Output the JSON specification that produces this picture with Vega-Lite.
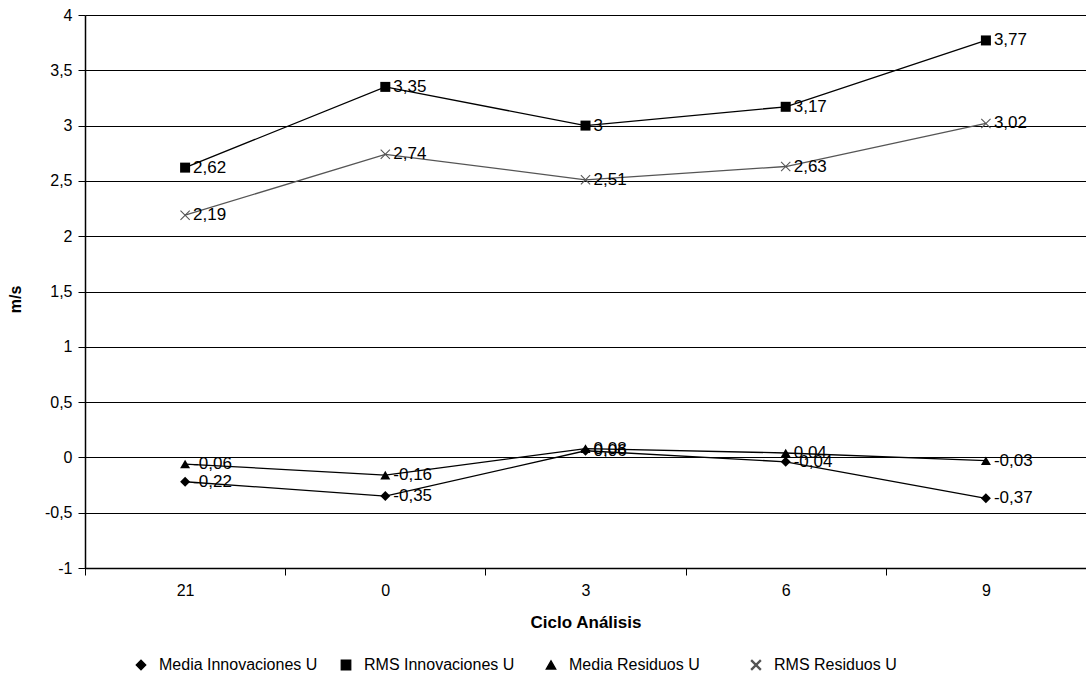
{
  "$schema": "https://vega.github.io/schema/vega-lite/v6.json",
  "width": 1001,
  "height": 553,
  "autosize": {"type": "none"},
  "padding": {"left": 85, "top": 15, "right": 0, "bottom": 116},
  "background": "white",
  "config": {
    "locale": {
      "number": {"decimal": ",", "thousands": ".", "grouping": [3], "currency": ["", " €"], "minus": "-"}
    },
    "font": "Liberation Sans",
    "view": {"stroke": null}
  },
  "data": {
    "values": [
      {"ciclo": "21", "serie": "Media Innovaciones U", "valor": -0.22},
      {"ciclo": "0", "serie": "Media Innovaciones U", "valor": -0.35},
      {"ciclo": "3", "serie": "Media Innovaciones U", "valor": 0.06},
      {"ciclo": "6", "serie": "Media Innovaciones U", "valor": -0.04},
      {"ciclo": "9", "serie": "Media Innovaciones U", "valor": -0.37},
      {"ciclo": "21", "serie": "RMS Innovaciones U", "valor": 2.62},
      {"ciclo": "0", "serie": "RMS Innovaciones U", "valor": 3.35},
      {"ciclo": "3", "serie": "RMS Innovaciones U", "valor": 3},
      {"ciclo": "6", "serie": "RMS Innovaciones U", "valor": 3.17},
      {"ciclo": "9", "serie": "RMS Innovaciones U", "valor": 3.77},
      {"ciclo": "21", "serie": "Media Residuos U", "valor": -0.06},
      {"ciclo": "0", "serie": "Media Residuos U", "valor": -0.16},
      {"ciclo": "3", "serie": "Media Residuos U", "valor": 0.08},
      {"ciclo": "6", "serie": "Media Residuos U", "valor": 0.04},
      {"ciclo": "9", "serie": "Media Residuos U", "valor": -0.03},
      {"ciclo": "21", "serie": "RMS Residuos U", "valor": 2.19},
      {"ciclo": "0", "serie": "RMS Residuos U", "valor": 2.74},
      {"ciclo": "3", "serie": "RMS Residuos U", "valor": 2.51},
      {"ciclo": "6", "serie": "RMS Residuos U", "valor": 2.63},
      {"ciclo": "9", "serie": "RMS Residuos U", "valor": 3.02}
    ]
  },
  "encoding": {
    "x": {
      "field": "ciclo",
      "type": "nominal",
      "sort": ["21", "0", "3", "6", "9"],
      "scale": {"type": "band", "paddingInner": 0, "paddingOuter": 0},
      "axis": {
        "title": "Ciclo Análisis",
        "titleFontSize": 17,
        "titleFontWeight": "bold",
        "titleColor": "black",
        "titlePadding": 16,
        "labelAngle": 0,
        "labelFontSize": 16,
        "labelColor": "black",
        "labelPadding": 7,
        "tickBand": "extent",
        "tickSize": 7,
        "tickColor": "black",
        "domainColor": "black",
        "domainWidth": 1.5,
        "grid": false
      }
    },
    "y": {
      "field": "valor",
      "type": "quantitative",
      "scale": {"domain": [-1, 4], "nice": false, "zero": false},
      "axis": {
        "title": "m/s",
        "titleFontSize": 16,
        "titleFontWeight": "bold",
        "titleColor": "black",
        "titleX": -62,
        "titleY": 284,
        "values": [-1, -0.5, 0, 0.5, 1, 1.5, 2, 2.5, 3, 3.5, 4],
        "format": "~g",
        "labelFontSize": 16,
        "labelColor": "black",
        "labelPadding": 6,
        "tickSize": 7,
        "tickColor": "black",
        "domainColor": "black",
        "domainWidth": 1.5,
        "grid": true,
        "gridColor": "black",
        "gridWidth": 1.2,
        "gridOpacity": 1
      }
    },
    "color": {
      "field": "serie",
      "type": "nominal",
      "sort": ["Media Innovaciones U", "RMS Innovaciones U", "Media Residuos U", "RMS Residuos U"],
      "scale": {
        "domain": ["Media Innovaciones U", "RMS Innovaciones U", "Media Residuos U", "RMS Residuos U"],
        "range": ["black", "black", "black", "#555555"]
      },
      "legend": {
        "title": null,
        "orient": "none",
        "direction": "horizontal",
        "legendX": 48,
        "legendY": 642,
        "columns": 4,
        "gridAlign": "all",
        "columnPadding": 20,
        "labelFontSize": 16,
        "labelColor": "black",
        "symbolSize": 90,
        "labelOffset": 10
      }
    }
  },
  "layer": [
    {
      "mark": {"type": "line"},
      "encoding": {
        "strokeWidth": {
          "field": "serie",
          "type": "nominal",
          "scale": {
            "domain": ["Media Innovaciones U", "RMS Innovaciones U", "Media Residuos U", "RMS Residuos U"],
            "range": [1.3, 1.3, 1.3, 0.8]
          },
          "legend": null
        }
      }
    },
    {
      "mark": {"type": "point", "filled": true, "size": 100, "opacity": 1},
      "encoding": {
        "shape": {
          "field": "serie",
          "type": "nominal",
          "scale": {
            "domain": ["Media Innovaciones U", "RMS Innovaciones U", "Media Residuos U", "RMS Residuos U"],
            "range": [
              "diamond",
              "square",
              "triangle-up",
              "M-1,-0.85L-0.85,-1L0,-0.15L0.85,-1L1,-0.85L0.15,0L1,0.85L0.85,1L0,0.15L-0.85,1L-1,0.85L-0.15,0Z"
            ]
          }
        }
      }
    },
    {
      "mark": {"type": "text", "align": "left", "baseline": "middle", "dx": 8, "fontSize": 17, "color": "black"},
      "encoding": {
        "text": {"field": "valor", "type": "quantitative", "format": "~g"},
        "color": {"value": "black"}
      }
    }
  ]
}
